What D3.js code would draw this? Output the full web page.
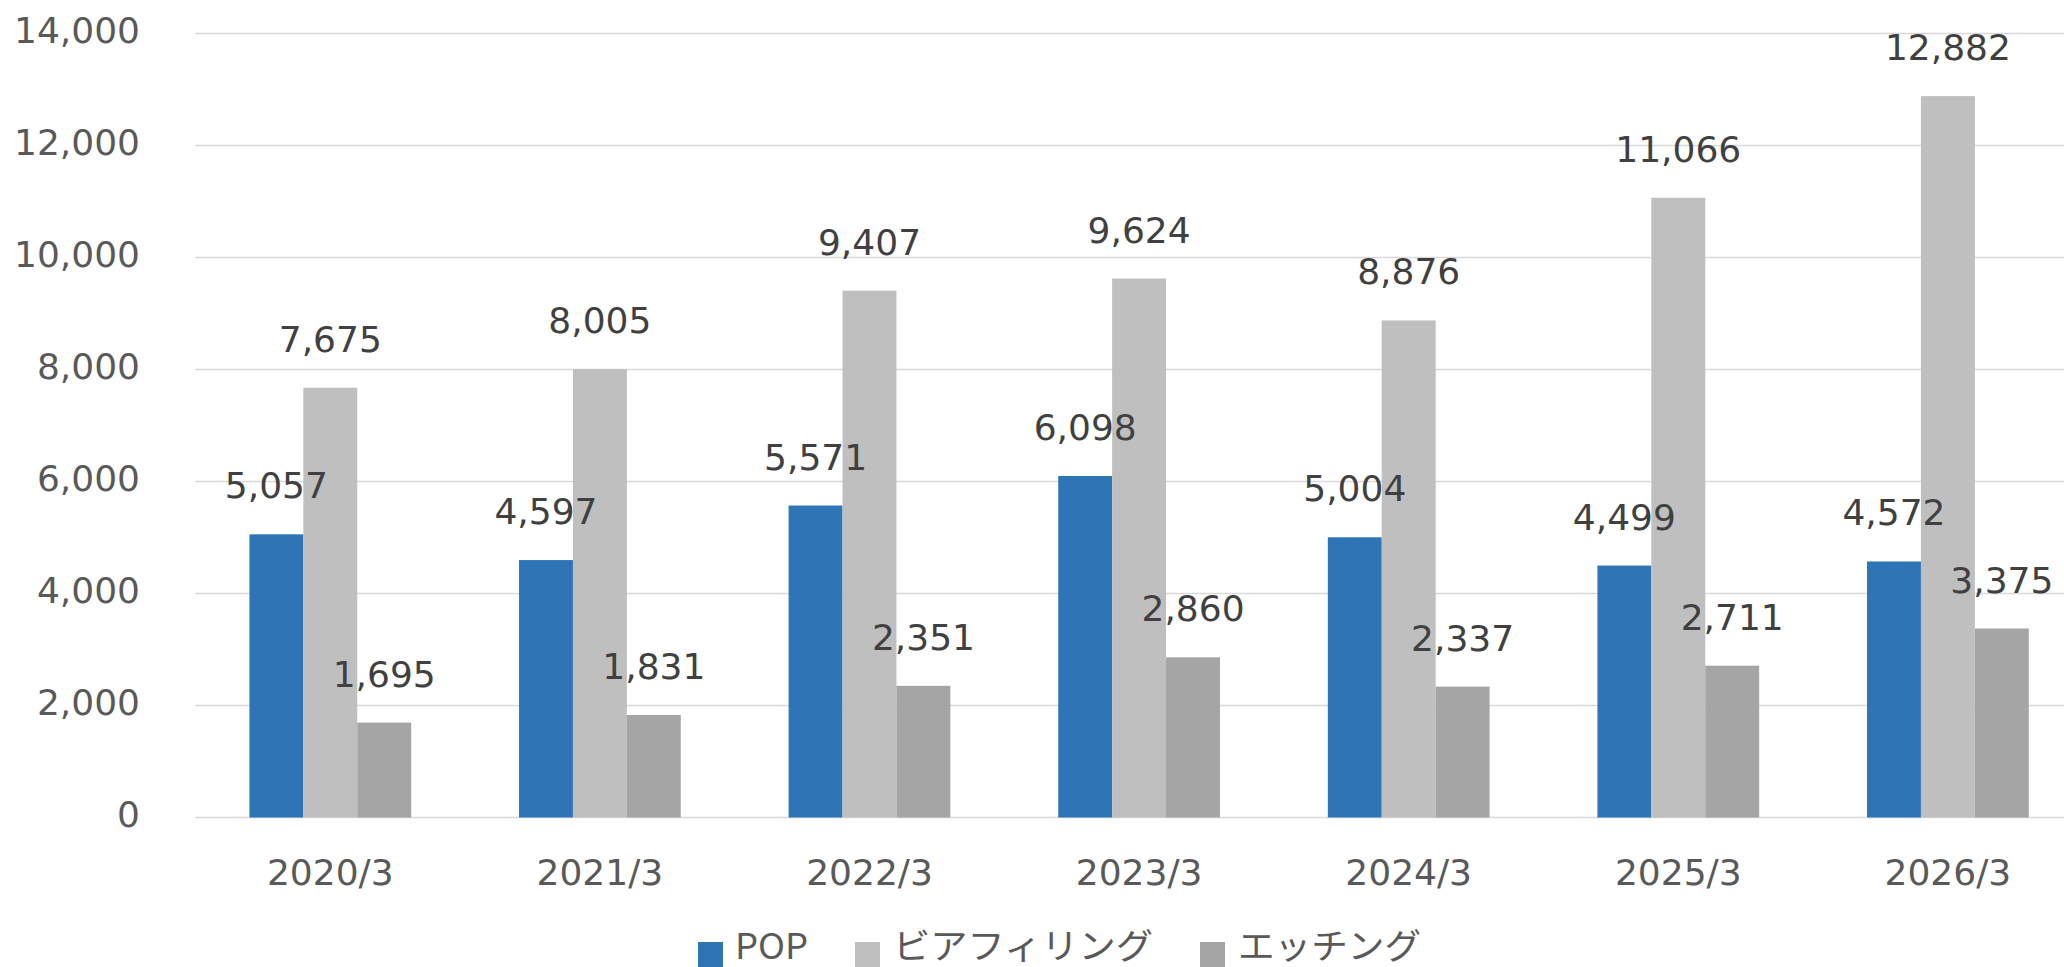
<!DOCTYPE html>
<html>
<head>
<meta charset="utf-8">
<script src="https://cdn.jsdelivr.net/npm/d3@7"></script>
<style>
  html, body { margin: 0; padding: 0; background: #fff; overflow: hidden; }
  svg { display: block; }
</style>
</head>
<body>
<div id="chart"></div>
<script>
// data
var years = ['2020/3', '2021/3', '2022/3', '2023/3', '2024/3', '2025/3', '2026/3'];
var seriesNames = ['POP', 'ビアフィリング', 'エッチング'];
var popValues = [5057, 4597, 5571, 6098, 5004, 4499, 4572];
var viaValues = [7675, 8005, 9407, 9624, 8876, 11066, 12882];
var etchValues = [1695, 1831, 2351, 2860, 2337, 2711, 3375];
var yTicks = [0, 2000, 4000, 6000, 8000, 10000, 12000, 14000];
var colors = ['#2E75B6', '#BFBFBF', '#A5A5A5'];

var W = 2064, H = 967;
var plotLeft = 195.5, plotRight = 2082.7; // plot runs past the right edge
var yTop = 33.5, yZero = 817.5;
var fmt = d3.format(',');

var svg = d3.select('#chart').append('svg')
    .attr('width', W)
    .attr('height', H);

var x = d3.scaleBand()
    .domain(years)
    .range([plotLeft, plotRight])
    .paddingInner(0.4)
    .paddingOuter(0.2);

var xs = d3.scaleBand()
    .domain(seriesNames)
    .range([0, x.bandwidth()]);

var y = d3.scaleLinear()
    .domain([0, 14000])
    .range([yZero, yTop]);

// gridlines
svg.append('g')
    .selectAll('line')
    .data(yTicks)
    .enter().append('line')
    .attr('x1', plotLeft)
    .attr('x2', plotRight)
    .attr('y1', d => y(d))
    .attr('y2', d => y(d))
    .attr('stroke', '#D9D9D9')
    .attr('stroke-width', 1.7);

// y axis labels
svg.append('g')
    .selectAll('text')
    .data(yTicks)
    .enter().append('text')
    .attr('x', 140)
    .attr('y', d => y(d) + 9)
    .attr('text-anchor', 'end')
    .attr('font-family', 'DejaVu Sans, Verdana, sans-serif')
    .attr('font-size', 36)
    .attr('fill', '#595959')
    .text(d => fmt(d));

var table = [popValues, viaValues, etchValues];

var rows = [];
years.forEach((yr, i) => {
    seriesNames.forEach((s, j) => {
        rows.push({ year: yr, series: s, idx: j, value: table[j][i] });
    });
});

// bars
svg.append('g')
    .selectAll('rect')
    .data(rows)
    .enter().append('rect')
    .attr('x', d => x(d.year) + xs(d.series))
    .attr('y', d => y(d.value))
    .attr('width', xs.bandwidth())
    .attr('height', d => yZero - y(d.value))
    .attr('fill', d => colors[d.idx]);

// data labels
svg.append('g')
    .selectAll('text')
    .data(rows)
    .enter().append('text')
    .attr('x', d => x(d.year) + xs(d.series) + xs.bandwidth() / 2)
    .attr('y', d => y(d.value) - 36)
    .attr('text-anchor', 'middle')
    .attr('font-family', 'DejaVu Sans, Verdana, sans-serif')
    .attr('font-size', 36)
    .attr('fill', '#404040')
    .text(d => fmt(d.value));

// x axis labels
svg.append('g')
    .selectAll('text')
    .data(years)
    .enter().append('text')
    .attr('x', d => x(d) + x.bandwidth() / 2)
    .attr('y', 885)
    .attr('text-anchor', 'middle')
    .attr('font-family', 'DejaVu Sans, Verdana, sans-serif')
    .attr('font-size', 36)
    .attr('fill', '#595959')
    .text(d => d);

// legend
var legendItems = [
    { name: seriesNames[0], box: 698, tx: 735, tw: 73 },
    { name: seriesNames[1], box: 855, tx: 893, tw: 260 },
    { name: seriesNames[2], box: 1200, tx: 1238, tw: 183 }
];

var lg = svg.append('g');
lg.selectAll('rect')
    .data(legendItems)
    .enter().append('rect')
    .attr('x', d => d.box)
    .attr('y', 942)
    .attr('width', 25)
    .attr('height', 25)
    .attr('fill', (d, i) => colors[i]);

lg.selectAll('text')
    .data(legendItems)
    .enter().append('text')
    .attr('x', d => d.tx)
    .attr('y', 959)
    .attr('font-family', 'Noto Sans CJK JP, Noto Sans, sans-serif')
    .attr('font-size', 35)
    .attr('fill', '#595959')
    .attr('textLength', d => d.tw)
    .attr('lengthAdjust', 'spacingAndGlyphs')
    .text(d => d.name);
</script>
</body>
</html>
